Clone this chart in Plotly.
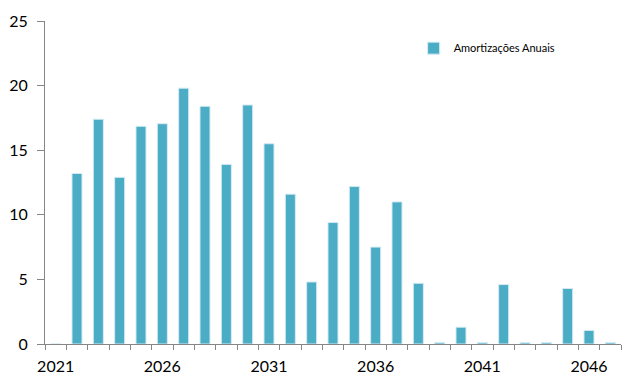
import plotly.graph_objects as go

years = list(range(2021, 2048))
amortizacoes = [0, 13.2, 17.4, 12.9, 16.85, 17.05, 19.8, 18.4, 13.9, 18.5, 15.5,
                11.6, 4.8, 9.4, 12.2, 7.5, 11.0, 4.7, 0.12, 1.3, 0.12, 4.6,
                0.12, 0.12, 4.3, 1.05, 0.12]
tick_years = [2021, 2026, 2031, 2036, 2041, 2046]
y_ticks = [0, 5, 10, 15, 20, 25]

font_family = "Lato, 'Open Sans', sans-serif"
axis_color = "#868686"

fig = go.Figure()
fig.add_trace(go.Bar(
    x=years, y=amortizacoes, name="Amortizações Anuais",
    marker=dict(color="#4BACC6", line=dict(color="#D6EBF2", width=1)),
    width=0.47,
))

fig.update_layout(
    width=627, height=384,
    margin=dict(l=37, r=14, t=13, b=48),
    plot_bgcolor="white", paper_bgcolor="white",
    font=dict(family=font_family, color="black", size=15),
    showlegend=True,
    legend=dict(x=0.64, y=0.916, xanchor="left", yanchor="middle",
                font=dict(size=11, family=font_family),
                bgcolor="rgba(0,0,0,0)"),
)
fig.update_xaxes(
    range=[2020.5, 2047.5], automargin=False,
    tickmode="array", tickvals=tick_years, ticktext=[str(t) for t in tick_years],
    ticks="", showgrid=False, showline=True, linecolor=axis_color, linewidth=1,
    zeroline=False, ticklabelstandoff=8,
    minor=dict(tickmode="linear", tick0=2020.5, dtick=1, ticks="outside",
               ticklen=5, tickcolor=axis_color, showgrid=False),
    tickfont=dict(size=16),
)
fig.update_yaxes(
    range=[0, 25], tickvals=y_ticks, automargin=False,
    ticks="outside", ticklen=7, tickcolor=axis_color,
    showgrid=False, showline=True, linecolor=axis_color, linewidth=1,
    zeroline=False, tickfont=dict(size=16), ticklabelstandoff=6,
)

fig.write_html("out.html")
